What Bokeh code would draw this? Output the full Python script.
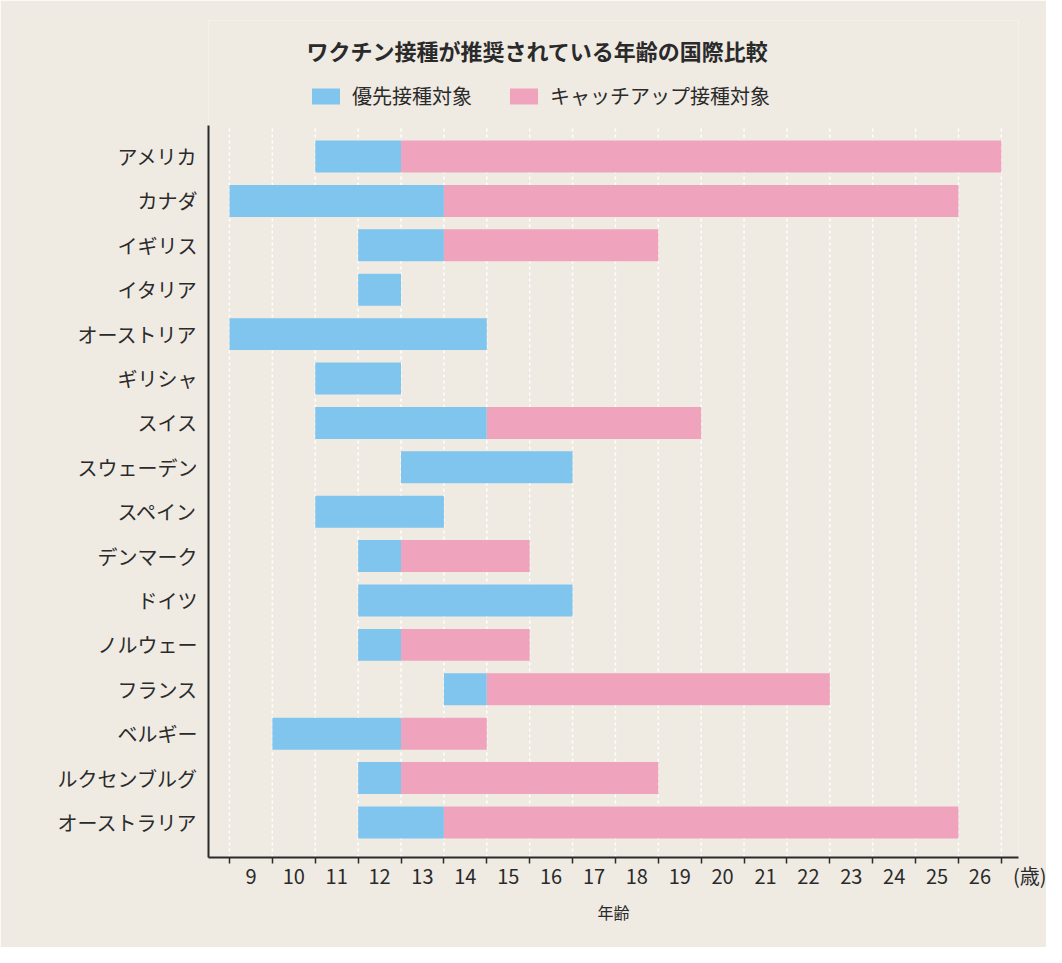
from bokeh.plotting import figure
from bokeh.models import FixedTicker, Range1d, Legend, LegendItem, Label
from bokeh.embed import file_html
from bokeh.resources import INLINE

countries = ["アメリカ", "カナダ", "イギリス", "イタリア", "オーストリア", "ギリシャ", "スイス",
             "スウェーデン", "スペイン", "デンマーク", "ドイツ", "ノルウェー", "フランス",
             "ベルギー", "ルクセンブルグ", "オーストラリア"]
priority_start = [11, 9, 12, 12, 9, 11, 11, 13, 11, 12, 12, 12, 14, 10, 12, 12]
priority_end = [13, 14, 14, 13, 15, 13, 15, 17, 14, 13, 17, 13, 15, 13, 13, 14]
catchup_end = [27, 26, 19, None, None, None, 20, None, None, 16, None, 16, 23, 15, 19, 26]
age_labels = list(range(9, 27))
unit_label = "\u3000\u3000(歳)"
title_text = "ワクチン接種が推奨されている年齢の国際比較"

FONT = "Noto Sans CJK JP"
BG = "#efebe3"
BLUE = "#7fc5ee"
PINK = "#f0a3bd"
INK = "#2a2a2a"

n = len(countries)
ypos = [n - 1 - i for i in range(n)]
Y0, Y1 = -0.79, 15.70          # extent of the plotted area (axis bounds)
Y_TOP = 18.065                 # frame extends upward to hold title and legend
X0, X1 = 8.51, 27.4

p = figure(width=1046, height=947, output_backend="svg", toolbar_location=None,
           x_range=Range1d(X0, X1), y_range=Range1d(Y0, Y_TOP),
           min_border_left=208, min_border_right=28, min_border_top=20, min_border_bottom=90)
p.title_location = None
p.background_fill_color = BG
p.border_fill_color = BG
p.outline_line_color = None

# vertical dashed guide lines at every year boundary
bounds = list(range(age_labels[0], age_labels[-1] + 2))
p.segment(x0=bounds, x1=bounds, y0=[Y0] * len(bounds), y1=[Y1] * len(bounds),
          line_color="white", line_dash="3 3", line_width=1.5)

# bars
r_pri = p.hbar(y=ypos, left=priority_start, right=priority_end, height=0.72,
               color=BLUE, line_color=None)
c_y = [ypos[i] for i in range(n) if catchup_end[i] is not None]
c_l = [priority_end[i] for i in range(n) if catchup_end[i] is not None]
c_r = [catchup_end[i] for i in range(n) if catchup_end[i] is not None]
r_cat = p.hbar(y=c_y, left=c_l, right=c_r, height=0.72, color=PINK, line_color=None)

# x axis
centers = [a + 0.5 for a in age_labels]
unit_pos = 27.39
p.xaxis.ticker = FixedTicker(ticks=centers + [unit_pos], minor_ticks=bounds)
ov = {c: str(a) for c, a in zip(centers, age_labels)}
ov[unit_pos] = unit_label
p.xaxis.major_label_overrides = ov
p.xaxis.major_tick_out = 0
p.xaxis.major_tick_in = 0
p.xaxis.minor_tick_out = 6
p.xaxis.minor_tick_in = 0
p.xaxis.minor_tick_line_color = INK
p.xaxis.minor_tick_line_width = 1.5
p.xaxis.axis_line_color = INK
p.xaxis.axis_line_width = 2
p.xaxis.major_label_text_font = FONT
p.xaxis.major_label_text_font_size = "20px"
p.xaxis.major_label_text_color = INK
p.xaxis.major_label_standoff = -3
p.xaxis.axis_label = "年齢"
p.xaxis.axis_label_text_font = FONT
p.xaxis.axis_label_text_font_size = "16px"
p.xaxis.axis_label_text_font_style = "normal"
p.xaxis.axis_label_text_color = INK
p.xaxis.axis_label_standoff = 7

# y axis
p.yaxis.ticker = FixedTicker(ticks=ypos, minor_ticks=[])
p.yaxis.major_label_overrides = {y: c for y, c in zip(ypos, countries)}
p.yaxis.bounds = (Y0, Y1)
p.yaxis.major_tick_out = 0
p.yaxis.major_tick_in = 0
p.yaxis.minor_tick_out = 0
p.yaxis.axis_line_color = INK
p.yaxis.axis_line_width = 2
p.yaxis.major_label_text_font = FONT
p.yaxis.major_label_text_font_size = "20px"
p.yaxis.major_label_text_color = INK
p.yaxis.major_label_standoff = 11

p.xgrid.grid_line_color = None
p.ygrid.grid_line_color = None

# title
p.add_layout(Label(x=16.18, y=17.39, text=title_text,
                   text_font=FONT, text_font_size="22px", text_font_style="bold",
                   text_color=INK, text_align="center", text_baseline="middle"))

legend = Legend(items=[LegendItem(label="優先接種対象", renderers=[r_pri]),
                       LegendItem(label="キャッチアップ接種対象", renderers=[r_cat])],
                location=(100, 747), orientation="horizontal",
                label_text_font=FONT, label_text_font_size="20px", label_text_color=INK,
                glyph_width=35, glyph_height=20, label_standoff=9, spacing=34,
                padding=0, margin=0, border_line_color=None, background_fill_alpha=0,
                label_height=20)
p.add_layout(legend, "center")

open("out.html", "w").write(file_html(p, INLINE))
